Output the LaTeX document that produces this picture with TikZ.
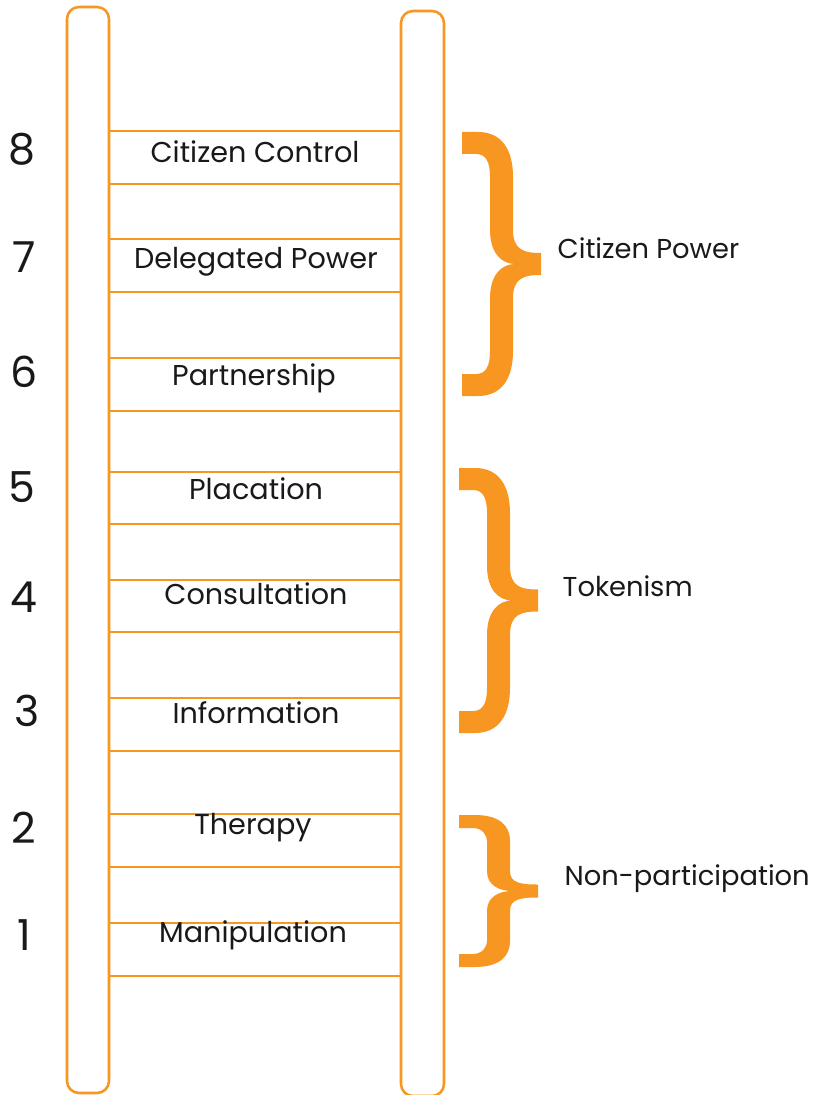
\documentclass[tikz,border=0pt]{standalone}
\usepackage{fontspec}
\setmainfont{Poppins}
\definecolor{ladderorange}{RGB}{247,150,32}
\newcommand{\bracefill}[4]{%
  \pgfmathsetmacro{\braceM}{(#2+#3)/2}
  \pgfmathsetmacro{\braceC}{0.17*(#3-#2)}
  \pgfmathsetmacro{\braceT}{0.13*(#3-#2)}
  \fill[bracefill] (#1,#2) -- ({#1+16},#2)
    .. controls ({#1+40},#2) and ({#1+51},{#2+0.4*\braceC}) .. ({#1+51},{#2+\braceC})
    -- ({#1+51},{\braceM-\braceT})
    .. controls ({#1+51},{\braceM-0.4*\braceT}) and ({#1+62},{\braceM-#4/2}) .. ({#1+79},{\braceM-#4/2})
    -- ({#1+79},{\braceM+#4/2})
    .. controls ({#1+62},{\braceM+#4/2}) and ({#1+51},{\braceM+0.4*\braceT}) .. ({#1+51},{\braceM+\braceT})
    -- ({#1+51},{#3-\braceC})
    .. controls ({#1+51},{#3-0.4*\braceC}) and ({#1+40},#3) .. ({#1+16},#3)
    -- (#1,#3) -- (#1,{#3-#4}) -- ({#1+14},{#3-#4})
    .. controls ({#1+24},{#3-#4}) and ({#1+28},{#3-#4-8}) .. ({#1+28},{#3-\braceC})
    -- ({#1+28},{\braceM+\braceT})
    .. controls ({#1+28},{\braceM+0.3*\braceT}) and ({#1+40},\braceM) .. ({#1+53},\braceM)
    .. controls ({#1+40},\braceM) and ({#1+28},{\braceM-0.3*\braceT}) .. ({#1+28},{\braceM-\braceT})
    -- ({#1+28},{#2+\braceC})
    .. controls ({#1+28},{#2+#4+8}) and ({#1+24},{#2+#4}) .. ({#1+14},{#2+#4})
    -- (#1,{#2+#4}) -- cycle;}
\begin{document}
\begin{tikzpicture}[x=0.75pt,y=-0.75pt,
  rail/.style={draw=ladderorange,line width=1.9pt,rounded corners=9pt},
  rung/.style={draw=ladderorange,line width=1.9pt},
  bracefill/.style={fill=ladderorange},
  steplabel/.style={anchor=base,font=\fontsize{21.5}{25}\selectfont,text=black!90},
  steplevel/.style={anchor=base,font=\fontsize{32}{36}\selectfont,text=black!90},
  grouplabel/.style={anchor=base west,font=\fontsize{20.5}{25}\selectfont,text=black!90}]
\useasboundingbox (0,0) rectangle (820,1095);

\path[rail] (67,7) rectangle (109,1093);
\path[rail] (401,11) rectangle (444,1096);

\path[rung] (109,131) -- (401,131);
\path[rung] (109,184) -- (401,184);
\path[rung] (109,239) -- (401,239);
\path[rung] (109,292) -- (401,292);
\path[rung] (109,358) -- (401,358);
\path[rung] (109,411) -- (401,411);
\path[rung] (109,472) -- (401,472);
\path[rung] (109,524) -- (401,524);
\path[rung] (109,580) -- (401,580);
\path[rung] (109,632) -- (401,632);
\path[rung] (109,698) -- (401,698);
\path[rung] (109,751) -- (401,751);
\path[rung] (109,814) -- (401,814);
\path[rung] (109,867) -- (401,867);
\path[rung] (109,923) -- (401,923);
\path[rung] (109,976) -- (401,976);

\node[steplabel] (lbl8) at (255,163) {Citizen Control};
\node[steplabel] (lbl7) at (256,268) {Delegated Power};
\node[steplabel] (lbl6) at (254,385) {Partnership};
\node[steplabel] (lbl5) at (256,499) {Placation};
\node[steplabel] (lbl4) at (256,604) {Consultation};
\node[steplabel] (lbl3) at (256,723) {Information};
\node[steplabel] (lbl2) at (253,834) {Therapy};
\node[steplabel] (lbl1) at (253,942) {Manipulation};

\node[steplevel] (num8) at (22,165) {8};
\node[steplevel] (num7) at (24,272) {7};
\node[steplevel] (num6) at (24,387) {6};
\node[steplevel] (num5) at (22,502) {5};
\node[steplevel] (num4) at (24,612) {4};
\node[steplevel] (num3) at (27,726) {3};
\node[steplevel] (num2) at (24,843) {2};
\node[steplevel] (num1) at (24,950) {1};

\bracefill{462}{132}{396}{22}
\bracefill{459}{468}{733}{22}
\bracefill{459}{815}{967}{13}

\node[grouplabel] (citizen) at (553,258) {Citizen Power};
\node[grouplabel] (token) at (558,596) {Tokenism};
\node[grouplabel] (nonpart) at (560,885) {Non-participation};
\end{tikzpicture}
\end{document}
